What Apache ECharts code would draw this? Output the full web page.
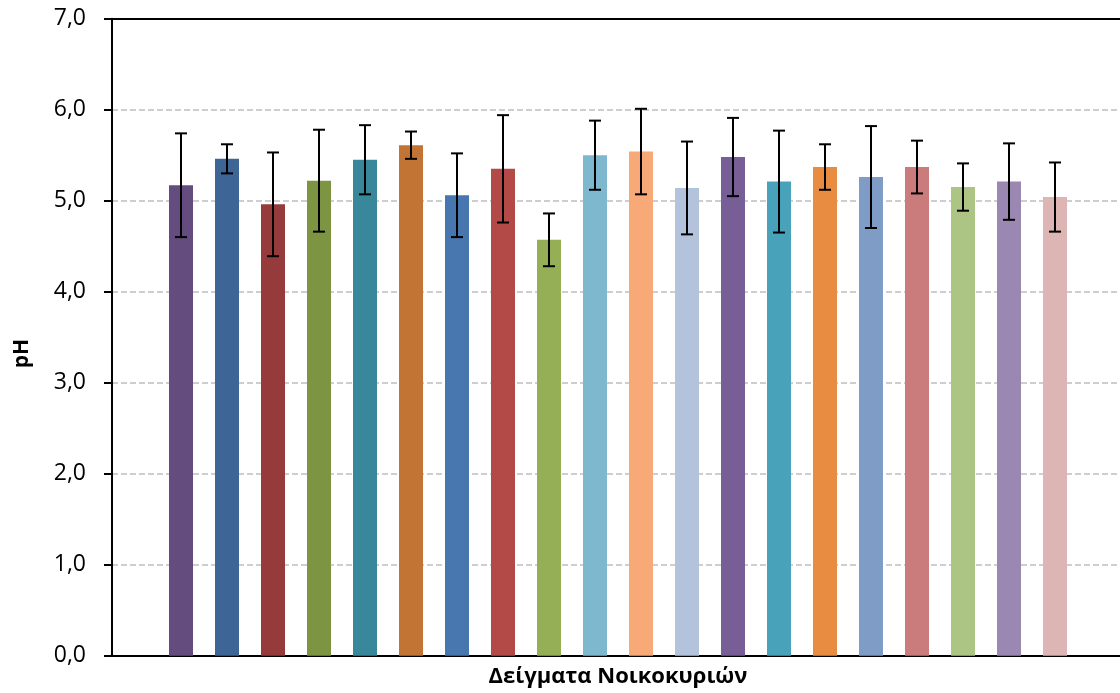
<!DOCTYPE html>
<html><head><meta charset="utf-8">
<script src="https://cdn.jsdelivr.net/npm/echarts@6/dist/echarts.min.js"></script>
<style>html,body{margin:0;padding:0;background:#fff}#c{width:1120px;height:693px}</style>
</head><body><div id="c"></div>
<script>
// 22 slots on the category axis; first and last are empty
var categories = ['', 'S1','S2','S3','S4','S5','S6','S7','S8','S9','S10','S11','S12','S13','S14','S15','S16','S17','S18','S19','S20', ''];
var phMean = [null, 5.17, 5.46, 4.96, 5.22, 5.45, 5.61, 5.06, 5.35, 4.57, 5.50, 5.54, 5.14, 5.48, 5.21, 5.37, 5.26, 5.37, 5.15, 5.21, 5.04, null];
var phErr  = [null, 0.57, 0.16, 0.57, 0.56, 0.38, 0.15, 0.46, 0.59, 0.29, 0.38, 0.47, 0.51, 0.43, 0.56, 0.25, 0.56, 0.29, 0.26, 0.42, 0.38, null];
var barColors = [null, '#654C7F','#3D6595','#963B3C','#7D9443','#38879A','#C27435','#4876AF','#B34A48','#94AF55','#7DB8CF',
  '#F7A977','#B4C3DC','#775E97','#47A2BA','#E88C41','#7F9CC7','#CA7C7C','#ADC584','#9B88B2','#DDB5B4', null];
var yTicks = [0,1,2,3,4,5,6,7];

var barData = phMean.map(function(v,i){ return {value: v, itemStyle:{color: barColors[i]}}; });
var errData = [];
phMean.forEach(function(v,i){ if(v!=null) errData.push([i, v - phErr[i], v + phErr[i]]); });

var chart = echarts.init(document.getElementById('c'));
chart.setOption({
  animation:false,
  grid:{left:112, right:-4, top:18.7, bottom:37.3, outerBoundsMode:'none', containLabel:false},
  xAxis:[{type:'category', data:categories, axisLine:{lineStyle:{color:'#000', width:2}}, axisTick:{show:false}, axisLabel:{show:false},
    name:'Δείγματα Νοικοκυριών', nameLocation:'middle', nameGap:10,
    nameTextStyle:{fontFamily:'Open Sans', fontWeight:'bold', fontSize:22, color:'#000'}},
    {type:'category', position:'top', data:categories, axisLine:{show:true, lineStyle:{color:'#000', width:2}}, axisTick:{show:false}, axisLabel:{show:false}, z:20}],
  yAxis:{type:'value', min:0, max:7, interval:1,
    axisLine:{show:true, lineStyle:{color:'#000', width:2}},
    axisTick:{show:true, length:8, lineStyle:{color:'#000', width:2}},
    axisLabel:{fontFamily:'Open Sans', fontSize:23, color:'#000', margin:26,
      formatter:function(v){ return v.toFixed(1).replace('.', ','); }},
    splitLine:{show:true, lineStyle:{color:'#BFBFBF', width:1.5, type:[6,3]}}},
  graphic:[{type:'text', left:12, top:339, rotation:Math.PI/2,
    style:{text:'pH', font:'bold 21px "Open Sans"', fill:'#000'}}],
  series:[
    {type:'bar', data:barData, barWidth:24},
    {type:'custom', data:errData, z:10,
     renderItem:function(params, api){
       var x = api.value(0);
       var lo = api.coord([x, api.value(1)]);
       var hi = api.coord([x, api.value(2)]);
       var hw = 6;
       var st = {stroke:'#000', lineWidth:2};
       return {type:'group', children:[
         {type:'line', shape:{x1:lo[0], y1:lo[1], x2:hi[0], y2:hi[1]}, style:st},
         {type:'line', shape:{x1:lo[0]-hw, y1:lo[1], x2:lo[0]+hw, y2:lo[1]}, style:st},
         {type:'line', shape:{x1:hi[0]-hw, y1:hi[1], x2:hi[0]+hw, y2:hi[1]}, style:st}
       ]};
     }}
  ]
});
</script></body></html>
